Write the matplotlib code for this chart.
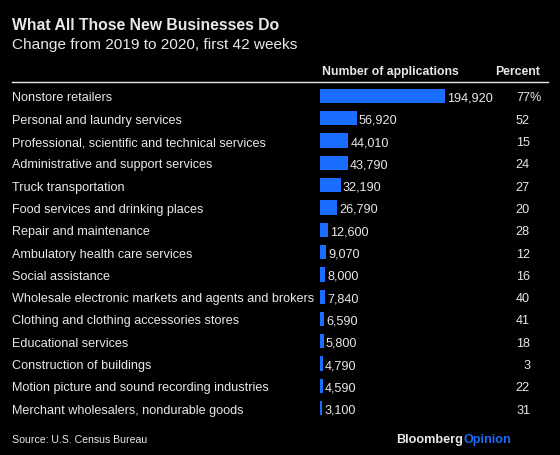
import matplotlib
matplotlib.use('Agg')
import matplotlib.pyplot as plt
import matplotlib.transforms as mtransforms

plt.rcParams['font.family'] = ['Liberation Sans', 'DejaVu Sans']

# ========================
# data
# ========================
categories = [
    'Nonstore retailers',
    'Personal and laundry services',
    'Professional, scientific and technical services',
    'Administrative and support services',
    'Truck transportation',
    'Food services and drinking places',
    'Repair and maintenance',
    'Ambulatory health care services',
    'Social assistance',
    'Wholesale electronic markets and agents and brokers',
    'Clothing and clothing accessories stores',
    'Educational services',
    'Construction of buildings',
    'Motion picture and sound recording industries',
    'Merchant wholesalers, nondurable goods',
]
applications = [194920, 56920, 44010, 43790, 32190, 26790, 12600, 9070,
                8000, 7840, 6590, 5800, 4790, 4590, 3100]
percent = [77, 52, 15, 24, 27, 20, 28, 12, 16, 40, 41, 18, 3, 22, 31]

BG = '#000000'
FG = '#e8e8e8'
BLUE = '#1a6dff'
W, H = 560, 456
FS = 9.1

fig = plt.figure(figsize=(W / 100, H / 100), dpi=100, facecolor=BG)

# full-figure axes in pixel coords for titles, rules and footer
pax = fig.add_axes([0, 0, 1, 1])
pax.set_xlim(0, W)
pax.set_ylim(H, 0)
pax.axis('off')

pax.text(12, 25, 'What All Those New Businesses Do', color=FG, fontsize=11.3,
         fontweight='bold', va='center', ha='left')
pax.text(12, 45, 'Change from 2019 to 2020, first 42 weeks', color=FG,
         fontsize=11.1, va='center', ha='left')

pax.text(390, 72, 'Number of applications', color=FG, fontsize=8.8,
         fontweight='bold', va='center', ha='center')
pax.text(540, 72, 'Percent', color=FG, fontsize=8.8,
         fontweight='bold', va='center', ha='right')
pax.plot([12, 548], [83, 83], color=FG, lw=1)

pax.text(12, 440, 'Source: U.S. Census Bureau', color=FG, fontsize=7.6,
         va='center', ha='left')
pax.text(463, 440, 'Bloomberg', color=FG, fontsize=9.1,
         fontweight='bold', va='center', ha='right')
pax.text(463, 440, 'Opinion', color=BLUE, fontsize=9.1,
         fontweight='bold', va='center', ha='left')

# bar axes
row0, step = 97, 22.3
n = len(categories)
top_px = row0 - step / 2
bot_px = row0 + step * (n - 1) + step / 2
x0_px, x1_px = 320, 445
ax = fig.add_axes([x0_px / W, 1 - bot_px / H, (x1_px - x0_px) / W,
                   (bot_px - top_px) / H])
ax.set_facecolor('none')
ax.set_xlim(0, max(applications))
ax.set_ylim(n - 0.5, -0.5)
ax.axis('off')

ys = list(range(n))
ax.barh(ys, applications, height=0.64, color=BLUE)

trans = mtransforms.blended_transform_factory(fig.transFigure, ax.transData)
val_trans = mtransforms.offset_copy(ax.transData, fig=fig, x=1.5, y=0,
                                    units='points')
for i, (cat, v, p) in enumerate(zip(categories, applications, percent)):
    ax.text(v, i, f'{v:,}', transform=val_trans, color=FG, fontsize=FS,
            va='center_baseline', ha='left', clip_on=False)
    ax.text(12 / W, i, cat, transform=trans, color=FG, fontsize=FS,
            va='center_baseline', ha='left')
    ax.text(530 / W, i, str(p), transform=trans, color=FG, fontsize=FS,
            va='center_baseline', ha='right')
    if i == 0:
        ax.text(530 / W, i, '%', transform=trans, color=FG, fontsize=FS,
                va='center_baseline', ha='left')

fig.savefig('out.png', dpi=100, facecolor=BG)
